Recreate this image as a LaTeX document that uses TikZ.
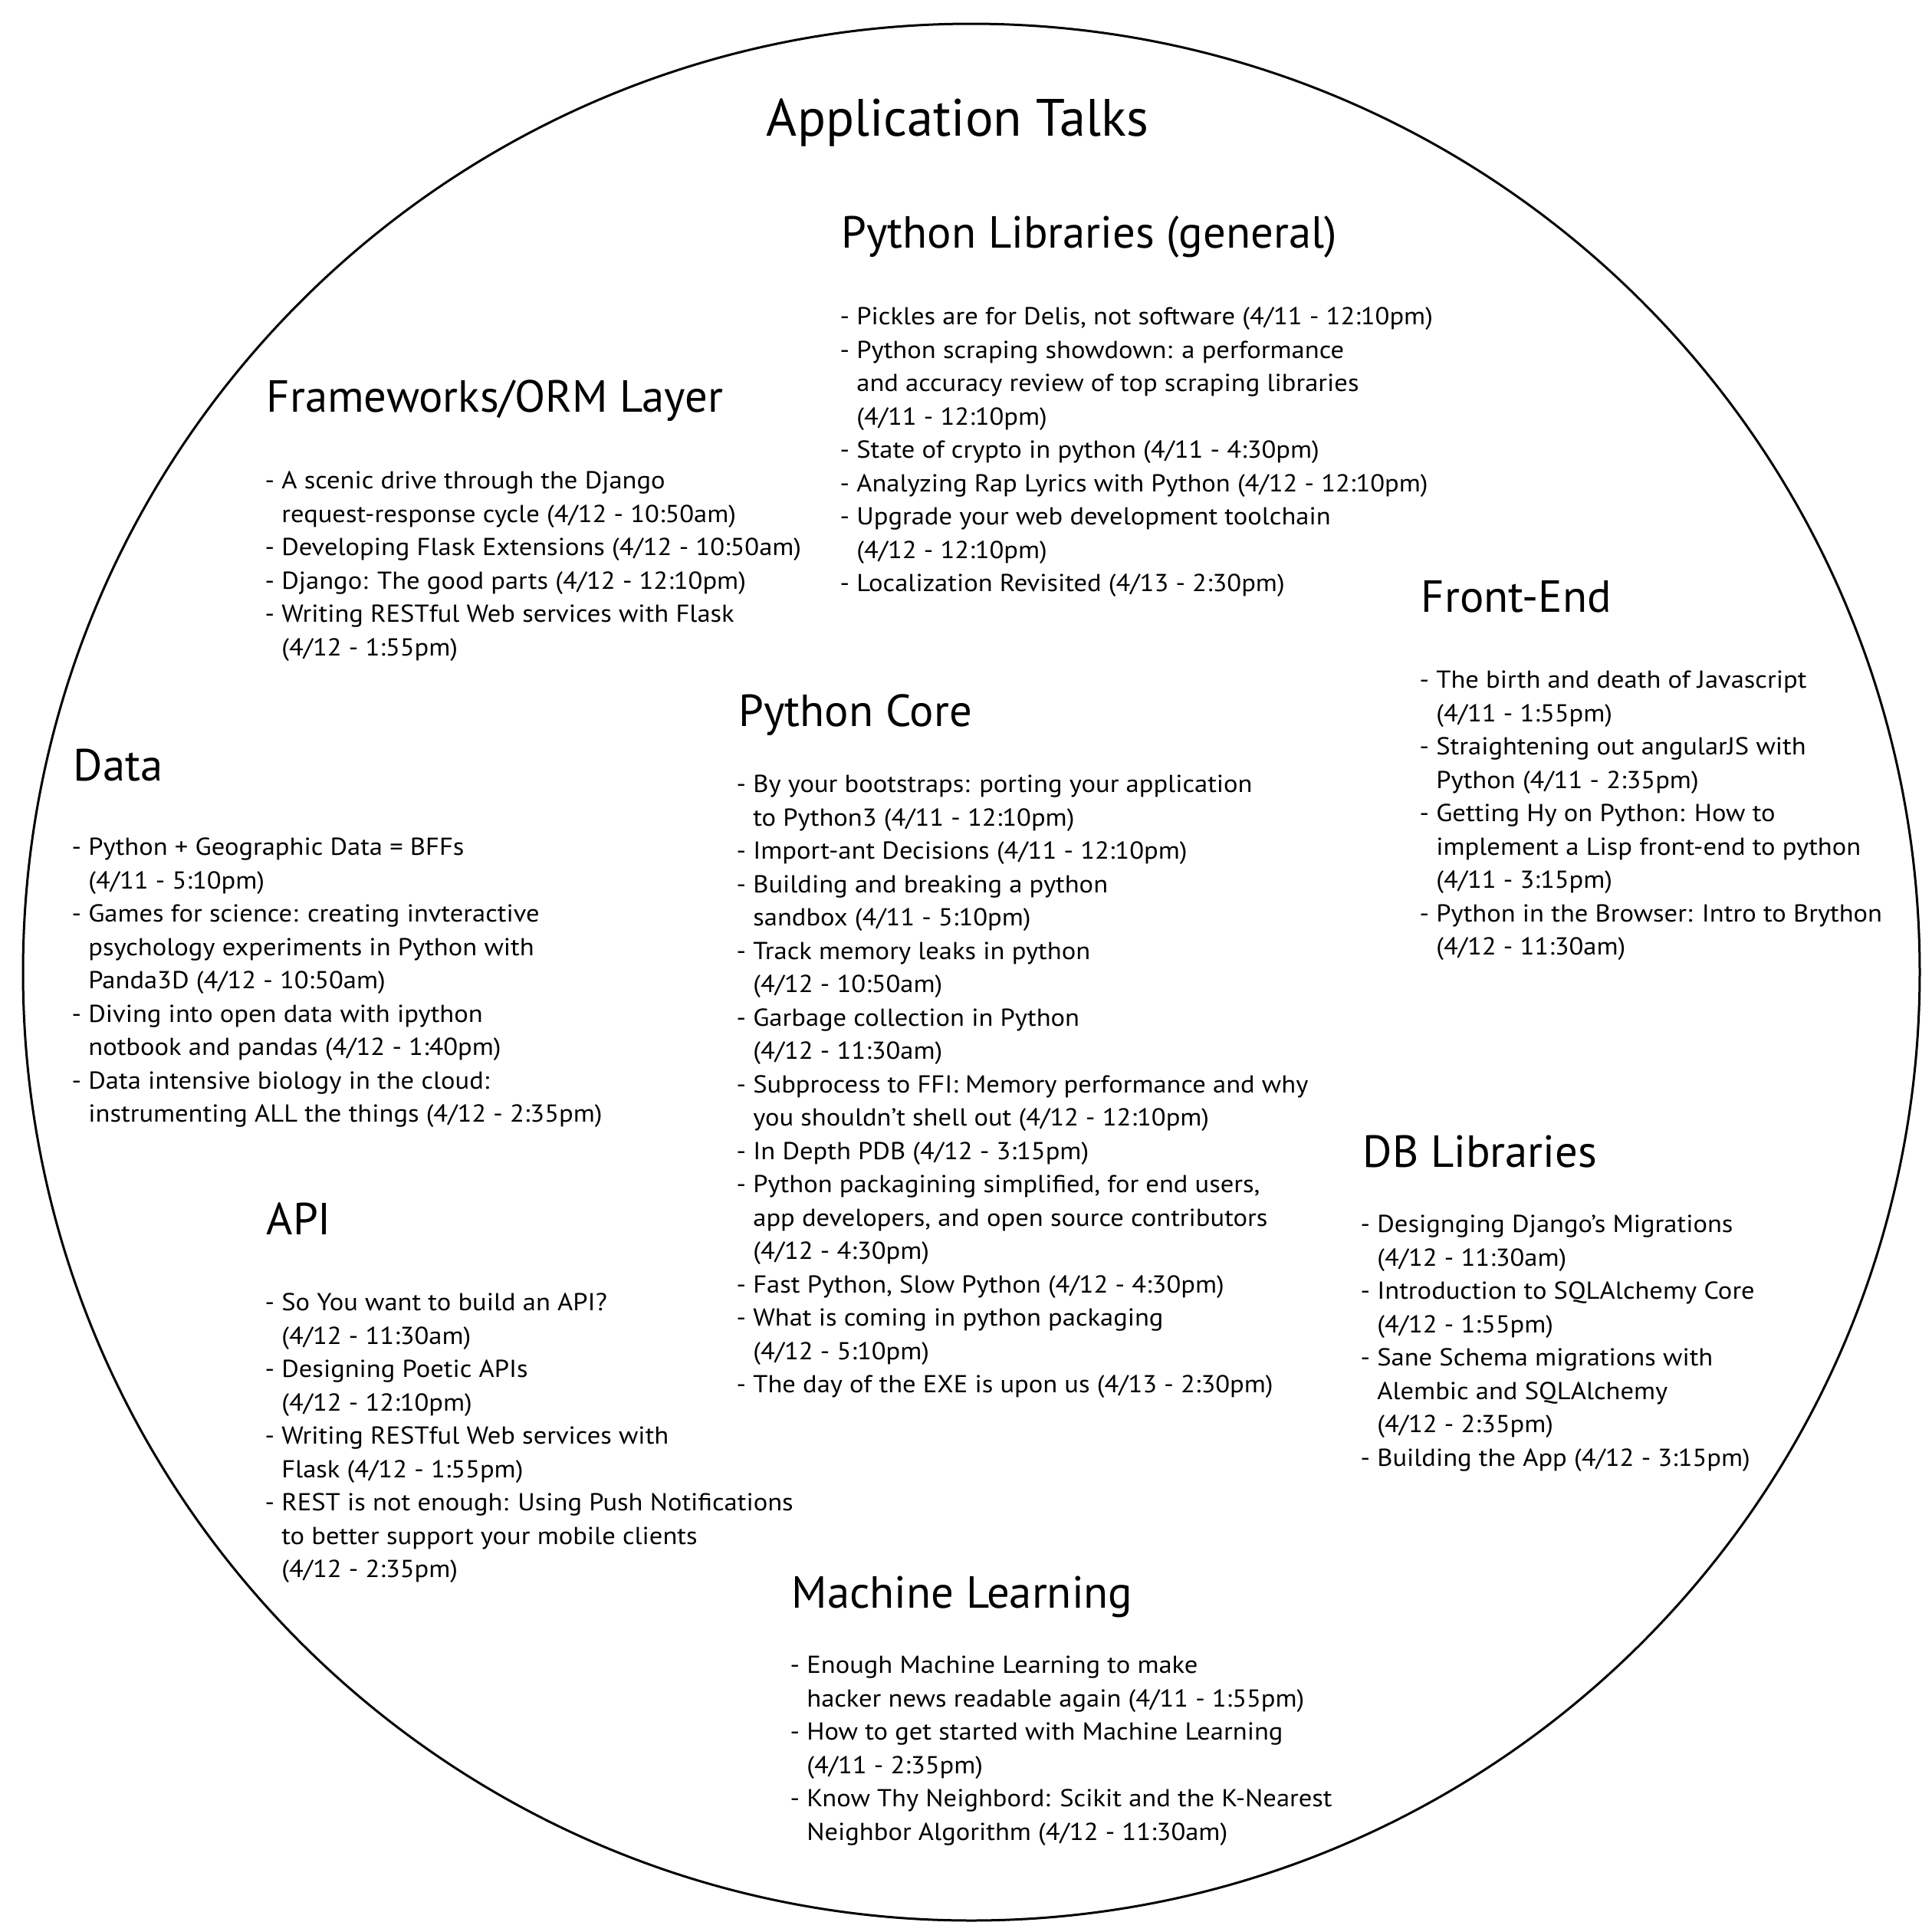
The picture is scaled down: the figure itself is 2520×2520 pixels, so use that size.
\documentclass[tikz,border=0pt]{standalone}
\usepackage{fontspec}
\setmainfont{PT Sans}
\newfontfamily\talkfont[FakeStretch=1.08]{PT Sans}
\newcommand{\ind}{\hphantom{- }}

\tikzset{
  maintitle/.style={anchor=base, inner sep=0pt, font=\fontsize{19.5}{23}\selectfont},
  track/.style={anchor=base west, inner sep=0pt, font=\fontsize{16.7}{20}\selectfont},
  talks/.style={anchor=north west, inner sep=0pt, align=left, font=\talkfont\fontsize{9.1}{12.38}\selectfont},
}

\begin{document}
\begin{tikzpicture}[x=0.1mm, y=-0.1mm]
    \useasboundingbox (0,0) rectangle (2520,2520);
    \draw [line width=0.3mm] (1267,1268) circle [radius=123.7mm];

    \node[maintitle] (title) at (1249,177) {Application Talks};

    \node[track] (libs) at (1097,323) {Python Libraries (general)};
    \node[talks] (libs talks) at (1095,392.5) {\strut- Pickles are for Delis, not software (4/11 - 12:10pm)\\
        - Python scraping showdown: a performance\\
        \ind and accuracy review of top scraping libraries\\
        \ind (4/11 - 12:10pm)\\
        - State of crypto in python (4/11 - 4:30pm)\\
        - Analyzing Rap Lyrics with Python (4/12 - 12:10pm)\\
        - Upgrade your web development toolchain\\
        \ind (4/12 - 12:10pm)\\
        - Localization Revisited (4/13 - 2:30pm)};

    \node[track] (orm) at (347,537) {Frameworks/ORM Layer};
    \node[talks] (orm talks) at (345,606.5) {\strut- A scenic drive through the Django\\
        \ind request-response cycle (4/12 - 10:50am)\\
        - Developing Flask Extensions (4/12 - 10:50am)\\
        - Django: The good parts (4/12 - 12:10pm)\\
        - Writing RESTful Web services with Flask\\
        \ind (4/12 - 1:55pm)};

    \node[track] (front) at (1853,798) {Front-End};
    \node[talks] (front talks) at (1851,866.5) {\strut- The birth and death of Javascript\\
        \ind (4/11 - 1:55pm)\\
        - Straightening out angularJS with\\
        \ind Python (4/11 - 2:35pm)\\
        - Getting Hy on Python: How to\\
        \ind implement a Lisp front-end to python\\
        \ind (4/11 - 3:15pm)\\
        - Python in the Browser: Intro to Brython\\
        \ind (4/12 - 11:30am)};

    \node[track] (core) at (963,947) {Python Core};
    \node[talks] (core talks) at (960,1002.5) {\strut- By your bootstraps: porting your application\\
        \ind to Python3 (4/11 - 12:10pm)\\
        - Import-ant Decisions (4/11 - 12:10pm)\\
        - Building and breaking a python\\
        \ind sandbox (4/11 - 5:10pm)\\
        - Track memory leaks in python\\
        \ind (4/12 - 10:50am)\\
        - Garbage collection in Python\\
        \ind (4/12 - 11:30am)\\
        - Subprocess to FFI: Memory performance and why\\
        \ind you shouldn’t shell out (4/12 - 12:10pm)\\
        - In Depth PDB (4/12 - 3:15pm)\\
        - Python packagining simplified, for end users,\\
        \ind app developers, and open source contributors\\
        \ind (4/12 - 4:30pm)\\
        - Fast Python, Slow Python (4/12 - 4:30pm)\\
        - What is coming in python packaging\\
        \ind (4/12 - 5:10pm)\\
        - The day of the EXE is upon us (4/13 - 2:30pm)};

    \node[track] (data) at (95,1018) {Data};
    \node[talks] (data talks) at (93,1084.5) {\strut- Python + Geographic Data = BFFs\\
        \ind (4/11 - 5:10pm)\\
        - Games for science: creating invteractive\\
        \ind psychology experiments in Python with\\
        \ind Panda3D (4/12 - 10:50am)\\
        - Diving into open data with ipython\\
        \ind notbook and pandas (4/12 - 1:40pm)\\
        - Data intensive biology in the cloud:\\
        \ind instrumenting ALL the things (4/12 - 2:35pm)};

    \node[track] (db) at (1777,1522) {DB Libraries};
    \node[talks] (db talks) at (1774,1576.5) {\strut- Designging Django’s Migrations\\
        \ind (4/12 - 11:30am)\\
        - Introduction to SQLAlchemy Core\\
        \ind (4/12 - 1:55pm)\\
        - Sane Schema migrations with\\
        \ind Alembic and SQLAlchemy\\
        \ind (4/12 - 2:35pm)\\
        - Building the App (4/12 - 3:15pm)};

    \node[track] (api) at (347,1610) {API};
    \node[talks] (api talks) at (345,1678.5) {\strut- So You want to build an API?\\
        \ind (4/12 - 11:30am)\\
        - Designing Poetic APIs\\
        \ind (4/12 - 12:10pm)\\
        - Writing RESTful Web services with\\
        \ind Flask (4/12 - 1:55pm)\\
        - REST is not enough: Using Push Notifications\\
        \ind to better support your mobile clients\\
        \ind (4/12 - 2:35pm)};

    \node[track] (ml) at (1032,2097) {Machine Learning};
    \node[talks] (ml talks) at (1030,2151.5) {\strut- Enough Machine Learning to make\\
        \ind hacker news readable again (4/11 - 1:55pm)\\
        - How to get started with Machine Learning\\
        \ind (4/11 - 2:35pm)\\
        - Know Thy Neighbord: Scikit and the K-Nearest\\
        \ind Neighbor Algorithm (4/12 - 11:30am)};
\end{tikzpicture}
\end{document}
